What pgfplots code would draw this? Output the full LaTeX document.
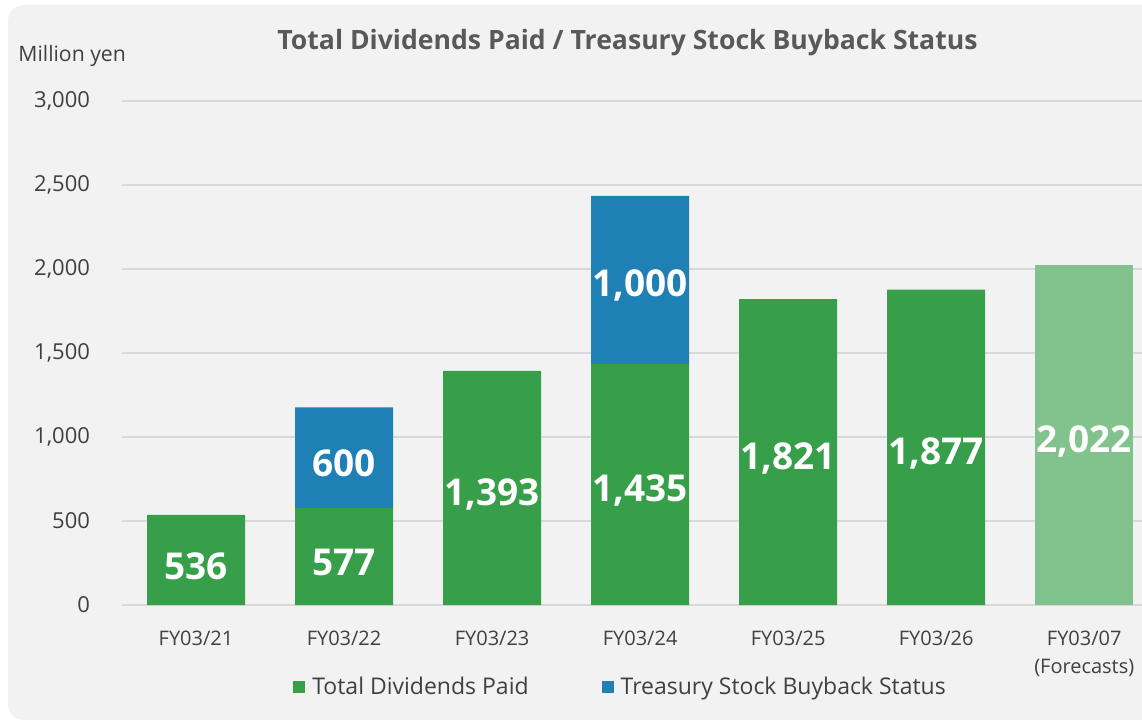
\documentclass[border=0pt]{standalone}
\usepackage{fontspec}
\setmainfont{Open Sans}
\usepackage{pgfplots}
\usepackage{pgfplotstable}
\pgfplotsset{compat=1.18}
\definecolor{bg}{HTML}{F2F2F2}
\definecolor{gridc}{HTML}{D9D9D9}
\definecolor{gbar}{HTML}{379F4A}
\definecolor{bbar}{HTML}{1F80B5}
\definecolor{lgbar}{HTML}{82C28C}
\definecolor{txt}{HTML}{404040}
\definecolor{ttl}{HTML}{595959}
\pgfplotstableread{
x g lg b gl lgl bl
0 536 0 0 536 {} {}
1 577 0 600 577 {} 600
2 1393 0 0 {1,393} {} {}
3 1435 0 1000 {1,435} {} {1,000}
4 1821 0 0 {1,821} {} {}
5 1877 0 0 {1,877} {} {}
6 0 2022 0 {} {2,022} {}
}\data
\begin{document}
\begin{tikzpicture}
\path[use as bounding box] (0,0) rectangle (571pt,362.5pt);
\clip (0,0) rectangle (571pt,362.5pt);
\fill[bg, rounded corners=8pt] (4pt,2.5pt) rectangle (590pt,360pt);
\node[font=\fontsize{13.3}{15}\selectfont\bfseries, text=ttl] at (313.75pt,341pt) {Total Dividends Paid / Treasury Stock Buyback Status};
\node[anchor=west, inner sep=0pt, font=\fontsize{10.6}{12}\selectfont, text=txt] at (9pt,334.5pt) {Million yen};
\begin{axis}[
  at={(61pt,60pt)}, anchor=south west,
  scale only axis, width=510pt, height=252pt,
  ybar stacked, bar width=49pt,
  xmin=-0.5, xmax=6.39, ymin=0, ymax=3000,
  clip=false,
  axis line style={draw=none},
  major tick length=0pt,
  ytick={0,500,...,3000},
  ymajorgrids, major grid style={draw=gridc, line width=0.8pt},
  xtick={0,...,6},
  xticklabels={FY03/21,FY03/22,FY03/23,FY03/24,FY03/25,FY03/26,{FY03/07\\(Forecasts)}},
  xticklabel style={align=center, font=\fontsize{10}{14}\selectfont, text=txt, yshift=-9.5pt},
  yticklabel style={font=\fontsize{11}{13}\selectfont, text=txt, xshift=-12.5pt},
  /pgf/number format/.cd, 1000 sep={,}, assume math mode=true, /pgfplots/.cd,
  scaled y ticks=false,
  legend image code/.code={\fill[#1] (0pt,-3pt) rectangle (6pt,3pt); \path (7.5pt,0pt);},
  legend style={at={(0.1676,-0.1627)}, anchor=west, draw=none, fill=none, inner sep=0pt,
    font=\fontsize{11.5}{13}\selectfont, text=txt,
    /tikz/every even column/.append style={column sep=34.5pt}},
  legend columns=2,
  point meta=explicit symbolic,
  nodes near coords,
  every node near coord/.append style={anchor=center, font=\fontsize{18.5}{20}\selectfont\bfseries, text=white, yshift=-3pt},
]
\addplot[fill=gbar, draw=none] table[x=x, y=g, meta=gl] {\data};
\addlegendentry{Total Dividends Paid}
\addplot[fill=bbar, draw=none] table[x=x, y=b, meta=bl] {\data};
\addlegendentry{Treasury Stock Buyback Status}
\addplot[fill=lgbar, draw=none, forget plot] table[x=x, y=lg, meta=lgl] {\data};
\end{axis}
\end{tikzpicture}
\end{document}
